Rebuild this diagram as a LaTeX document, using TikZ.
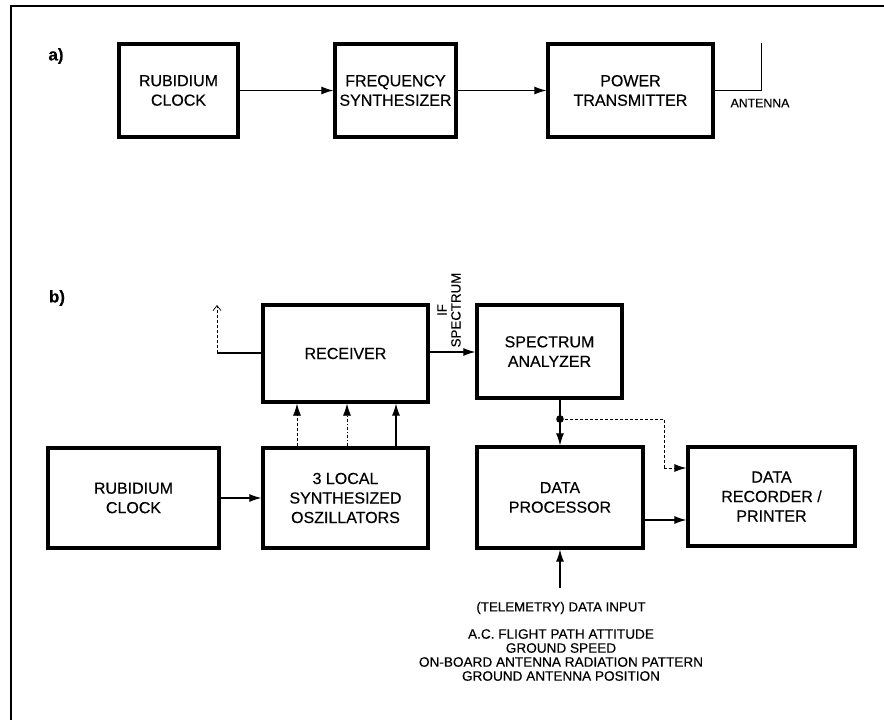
\documentclass[tikz,border=0pt]{standalone}
\usepackage{fontspec}
\setmainfont{Liberation Sans}[FakeBold=0.35]
\usetikzlibrary{arrows.meta,calc}
\begin{document}
\begin{tikzpicture}[x=1pt,y=-1pt,
  blk/.style={draw,line width=3.3pt,minimum width=#1,inner sep=0pt,align=center,font=\fontsize{16}{19.5}\selectfont},
  blk/.default=160pt,
  conn/.style={line width=1.1pt,-{Latex[length=12pt,width=8pt]}},
  wire/.style={line width=1.1pt},
  lbl/.style={font=\bfseries\fontsize{17}{20}\selectfont},
  small/.style={font=\fontsize{13.3}{14.5}\selectfont,align=center,inner sep=0pt}]
\useasboundingbox (0,0) rectangle (884,720);
\draw[line width=2.6pt] (11,720) -- (11,6) -- (884,6);
% part a
\node[lbl] (la) at (56,56) {a)};
\node[blk=119pt,minimum height=93pt] (a1) at (178.5,90.5) {RUBIDIUM\\CLOCK};
\node[blk=121pt,minimum height=93pt] (a2) at (395.5,90.5) {FREQUENCY\\SYNTHESIZER};
\node[blk=165pt,minimum height=93pt] (a3) at (630.5,90.5) {POWER\\TRANSMITTER};
\draw[conn] (a1.east) -- (a2.west);
\draw[conn] (a2.east) -- (a3.west);
\coordinate (ac) at (761,90.5);
\coordinate (at) at (761,43);
\draw[wire,line width=0.7pt] (a3.east) -- (ac) -- (at);
\node[small,font=\fontsize{12.3}{13}\selectfont] (ant) at (760,103) {ANTENNA};
% part b
\node[lbl] (lb) at (57,298) {b)};
\node[blk=165pt,minimum height=97pt] (rec) at (345.5,353.5) {RECEIVER};
\node[blk=145pt,minimum height=93pt] (spa) at (549.5,351.5) {SPECTRUM\\ANALYZER};
\node[blk=171pt,minimum height=100pt] (rb) at (133.5,498) {RUBIDIUM\\CLOCK};
\node[blk=165pt,minimum height=100pt] (osc) at (345.5,498) {3 LOCAL\\SYNTHESIZED\\OSZILLATORS};
\node[blk=166pt,minimum height=101pt] (dp) at (560,497.5) {DATA\\PROCESSOR};
\node[blk=167pt,minimum height=99pt] (dr) at (771.5,496.5) {DATA\\RECORDER /\\PRINTER};
% antenna b
\coordinate (bc) at (217,353);
\coordinate (bt) at (217,305);
\draw[wire] (rec.west |- bc) -- (bc);
\draw[wire,line width=0.7pt,densely dashed,-{Straight Barb[length=5pt,width=8pt]}] (bc) -- (bt);
% IF spectrum
\draw[conn] (rec.east |- 0,352) -- (spa.west |- 0,352);
\node[small,rotate=90,font=\fontsize{13.3}{14}\selectfont] (ifs) at (449,310) {IF\\SPECTRUM};
% oscillators to receiver
\draw[conn,densely dashed,line width=0.8pt] (osc.north -| 297,0) -- (rec.south -| 297,0);
\draw[conn,dash dot,line width=0.8pt] (osc.north -| 347,0) -- (rec.south -| 347,0);
\draw[conn] (osc.north -| 396,0) -- (rec.south -| 396,0);
\draw[conn] (rb.east) -- (osc.west);
% spectrum to processor
\coordinate (split) at (560,419);
\draw[wire] (spa.south -| split) -- (split);
\draw[conn] (split) -- (dp.north);
\fill (split) circle (3.8pt);
\coordinate (dc1) at (664,419);
\coordinate (dc2) at (664,468);
\draw[wire,densely dashed,line width=0.9pt] (split) -- (dc1) -- (dc2);
\draw[conn,densely dashed,line width=0.9pt] (dc2) -- (dr.west |- dc2);
\draw[conn] (dp.east |- 0,520) -- (dr.west |- 0,520);
% telemetry
\coordinate (tel) at (560,588);
\draw[conn] (tel) -- (dp.south);
\node[small] (tin) at (561,608) {(TELEMETRY) DATA INPUT};
\node[small,anchor=north,font=\fontsize{13.6}{14}\selectfont] (info) at (561,629) {A.C. FLIGHT PATH ATTITUDE\\GROUND SPEED\\ON-BOARD ANTENNA RADIATION PATTERN\\GROUND ANTENNA POSITION};
\end{tikzpicture}
\end{document}
